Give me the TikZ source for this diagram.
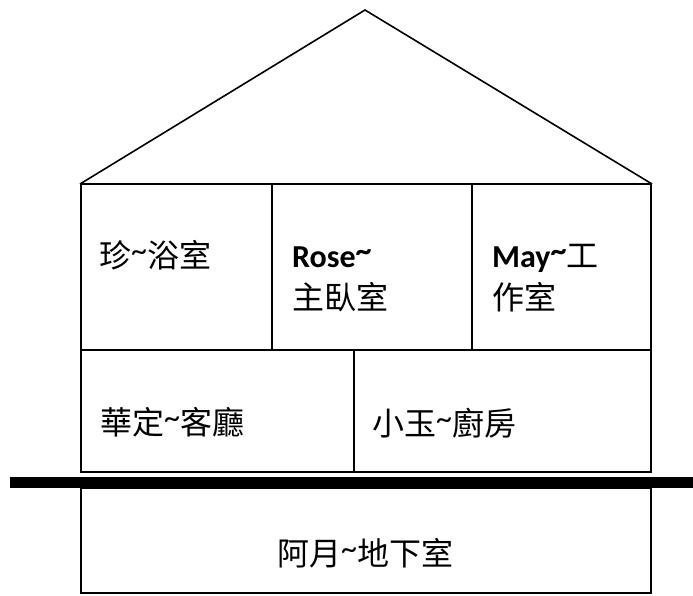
\documentclass[tikz,border=0pt]{standalone}
\usepackage{fontspec}
\setmainfont{Carlito}
\newfontfamily\cjk{Noto Sans CJK TC}
\newcommand\tld{\raisebox{0.18em}{\textasciitilde}}
\begin{document}
\begin{tikzpicture}[x=1pt,y=-1pt,
  wall/.style={draw,line width=1.6pt},
  lbl/.style={anchor=base west,inner sep=0pt,font=\fontsize{32}{42}\selectfont,align=left}]
\useasboundingbox (0,0) rectangle (693,595);
% roof
\coordinate (apex) at (365,10);
\coordinate (rl) at (80,184);
\coordinate (rr) at (652,184);
\draw[wall,line join=miter] (rl) -- (apex) -- (rr);
% top floor
\draw[wall] (81,184) rectangle (651,350);
\draw[wall] (272,184) -- (272,350);
\draw[wall] (472,184) -- (472,350);
% ground floor
\draw[wall] (81,350) rectangle (651,472);
\draw[wall] (354,350) -- (354,472);
% ground line
\fill (10,477) rectangle (693,488);
% basement
\draw[wall] (81,488) rectangle (651,593);
% labels
\node[lbl] (bath) at (99,267) {{\cjk 珍}\tld{\cjk 浴室}};
\node[lbl] (master) at (292,309) {\textbf{Rose\tld}\\{\cjk 主臥室}};
\node[lbl] (study) at (492,309) {\textbf{May\tld}{\cjk 工}\\{\cjk 作室}};
\node[lbl] (living) at (100,434) {{\cjk 華定}\tld{\cjk 客廳}};
\node[lbl] (kitchen) at (372,435) {{\cjk 小玉}\tld{\cjk 廚房}};
\node[lbl] (cellar) at (277,565) {{\cjk 阿月}\tld{\cjk 地下室}};
\end{tikzpicture}
\end{document}
